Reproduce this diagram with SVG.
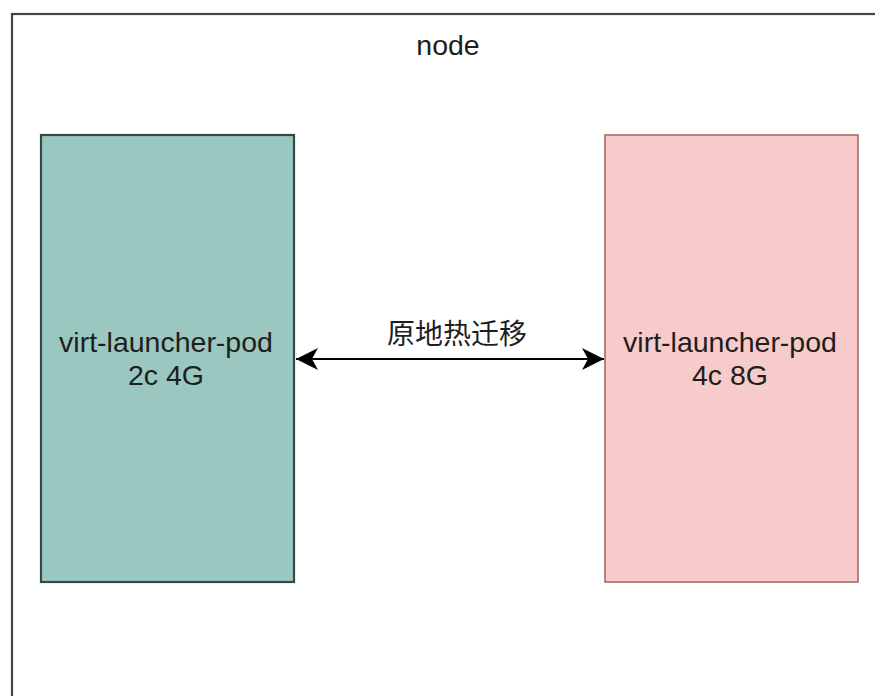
<svg xmlns="http://www.w3.org/2000/svg" width="875" height="696" viewBox="0 0 875 696">
  <style>
    .lbl { font-family: "Liberation Sans", Arial, sans-serif; font-size: 28.5px; fill: #1e1e1e; text-anchor: middle; }
    .cjk { font-family: "Liberation Sans", "Noto Sans CJK SC", sans-serif; font-size: 28px; fill: #1e1e1e; text-anchor: middle; }
    .link { stroke: #000; stroke-width: 2; fill: none; }
  </style>
  <defs>
    <marker id="head" viewBox="0 0 24 24" refX="22" refY="12" markerWidth="24" markerHeight="24" markerUnits="userSpaceOnUse" orient="auto-start-reverse">
      <path d="M0,1 L22,12 L0,23 L6,12 Z" fill="#000"/>
    </marker>
  </defs>
  <rect width="875" height="696" fill="#fff"/>

  <g id="node-host">
    <rect x="12" y="14" width="900" height="760" fill="#fff" stroke="#444" stroke-width="2.2"/>
    <text class="lbl" x="448" y="55">node</text>
  </g>

  <g id="pod-source">
    <rect x="41" y="135" width="253" height="447" fill="#9AC7BF" stroke="#394745" stroke-width="2.2"/>
    <text class="lbl" x="166" y="352">virt-launcher-pod</text>
    <text class="lbl" x="166" y="385">2c 4G</text>
  </g>

  <g id="pod-target">
    <rect x="605" y="135" width="253" height="447" fill="#F7CBC9" stroke="#a86a68" stroke-width="1.6"/>
    <text class="lbl" x="730" y="352">virt-launcher-pod</text>
    <text class="lbl" x="730" y="385">4c 8G</text>
  </g>

  <g id="connectors">
    <line class="link" x1="296" y1="359" x2="604" y2="359" marker-start="url(#head)" marker-end="url(#head)"/>
    <text class="cjk" x="457" y="344">原地热迁移</text>
  </g>
</svg>
